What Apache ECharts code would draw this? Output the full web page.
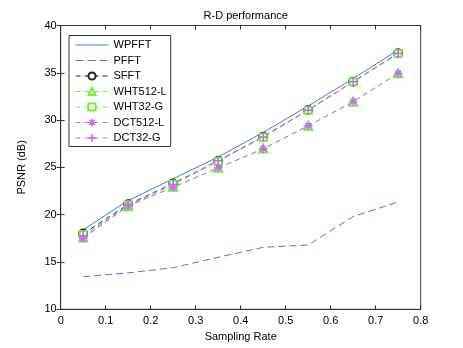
<!DOCTYPE html>
<html><head><meta charset="utf-8">
<script src="https://cdn.jsdelivr.net/npm/echarts@6/dist/echarts.min.js"></script>
<style>html,body{margin:0;padding:0;background:#fff}#c{width:463px;height:348px}</style>
</head><body><div id="c"></div>
<script>
const rates = [0.05, 0.15, 0.25, 0.35, 0.45, 0.55, 0.65, 0.75];
const wpfft = [18.4, 21.5, 23.8, 26.1, 28.7, 31.5, 34.4, 37.4];
const pfft = [13.45, 13.85, 14.4, 15.5, 16.55, 16.8, 19.8, 21.35];
const sfft = [18.0, 21.1, 23.3, 25.7, 28.25, 31.07, 34.06, 37.06];
const wht512 = [17.6, 20.9, 22.95, 24.95, 27.0, 29.4, 31.95, 34.95];
const wht32 = [17.9, 21.05, 23.25, 25.65, 28.2, 31.05, 34.05, 37.05];
const dct512 = [17.5, 20.95, 22.9, 24.95, 26.95, 29.4, 31.95, 34.95];
const dct32 = [17.75, 21.0, 23.2, 25.7, 28.2, 31.05, 34.05, 37.05];
const xTicks = [0, 0.1, 0.2, 0.3, 0.4, 0.5, 0.6, 0.7, 0.8];
const yTicks = [10, 15, 20, 25, 30, 35, 40];

const BLUE = '#4f6ef8', GREEN = '#70f030', MAG = '#cc66ff', BLK = '#222';
const F = 'Liberation Sans, Arial, sans-serif';
const plus = 'path://M-0.06,-1H0.06V-0.06H1V0.06H0.06V1H-0.06V0.06H-1V-0.06H-0.06Z';
const aster = 'path://M-0.06,-1H0.06V-0.15L0.66,-0.75L0.75,-0.66L0.15,-0.06H1V0.06H0.15L0.75,0.66L0.66,0.75L0.06,0.15V1H-0.06V0.15L-0.66,0.75L-0.75,0.66L-0.15,0.06H-1V-0.06H-0.15L-0.75,-0.66L-0.66,-0.75L-0.06,-0.15Z';

function mk(name, vals, color, dash, symbol, size) {
  return {
    name, type: 'line', data: rates.map((r, i) => [r, vals[i]]),
    symbol: symbol || 'none', symbolSize: size || 8, showSymbol: !!symbol,
    lineStyle: { color, width: 1, type: dash ? dash : 'solid' },
    itemStyle: { color, borderColor: color, borderWidth: 1 },
    emphasis: { disabled: true }, animation: false
  };
}

const names = ['WPFFT', 'PFFT', 'SFFT', 'WHT512-L', 'WHT32-G', 'DCT512-L', 'DCT32-G'];
const chart = echarts.init(document.getElementById('c'));
chart.setOption({
  animation: false,
  title: { text: 'R-D performance', left: 240.7, textAlign: 'center', top: 5,
    textStyle: { fontFamily: F, fontSize: 11, fontWeight: 'normal', color: '#000' } },
  grid: { left: 60.7, right: 42.3, top: 25.5, bottom: 38.7, show: true, borderColor: '#333', borderWidth: 1, backgroundColor: '#fff' },
  xAxis: [{
    type: 'value', min: 0, max: 0.8, interval: 0.1,
    name: 'Sampling Rate', nameLocation: 'middle', nameGap: 17,
    nameTextStyle: { fontFamily: F, fontSize: 11, color: '#000' },
    axisLine: { lineStyle: { color: '#333' } },
    axisTick: { inside: true, length: 4, lineStyle: { color: '#333' } },
    axisLabel: { fontFamily: F, fontSize: 11, color: '#000', margin: 6,
      formatter: v => { const t = xTicks.find(x => Math.abs(x - v) < 1e-9); return t === undefined ? '' : String(t); } },
    splitLine: { show: false }
  }, {
    type: 'value', position: 'top', min: 0, max: 0.8, interval: 0.1,
    axisLine: { show: true, lineStyle: { color: '#333' } },
    axisTick: { inside: true, length: 4, lineStyle: { color: '#333' } },
    axisLabel: { show: false }, splitLine: { show: false }
  }],
  yAxis: [{
    type: 'value', min: 10, max: 40, interval: 5,
    name: 'PSNR (dB)', nameLocation: 'middle', nameGap: 33,
    nameTextStyle: { fontFamily: F, fontSize: 11, color: '#000' },
    axisLine: { show: true, lineStyle: { color: '#333' } },
    axisTick: { show: true, inside: true, length: 4, lineStyle: { color: '#333' } },
    axisLabel: { fontFamily: F, fontSize: 11, color: '#000', margin: 4,
      formatter: v => yTicks.includes(v) ? String(v) : '' },
    splitLine: { show: false }
  }, {
    type: 'value', position: 'right', min: 10, max: 40, interval: 5,
    axisLine: { show: true, lineStyle: { color: '#333' } },
    axisTick: { show: true, inside: true, length: 4, lineStyle: { color: '#333' } },
    axisLabel: { show: false }, splitLine: { show: false }
  }],
  legend: {
    orient: 'vertical', left: 69, top: 35.5, itemWidth: 33, itemHeight: 9, itemGap: 4.5,
    padding: [4, 4, 3, 6], borderColor: '#333', borderWidth: 1, backgroundColor: '#fff',
    lineStyle: { width: 1 }, itemStyle: { borderWidth: 1 },
    textStyle: { fontFamily: F, fontSize: 11, color: '#000' },
    data: names.map((n, i) => i === 0 ? { name: n, itemStyle: { opacity: 0 } }
      : i === 1 ? { name: n, itemStyle: { opacity: 0 }, lineStyle: { color: BLUE, width: 1, type: [8, 4] } }
      : { name: n })
  },
  series: [
    mk('WPFFT', wpfft, BLUE, null),
    mk('PFFT', pfft, BLUE, [7, 4]),
    mk('SFFT', sfft, BLK, [5, 4], 'emptyCircle', 8),
    mk('WHT512-L', wht512, GREEN, [5, 4], 'emptyTriangle', 8),
    mk('WHT32-G', wht32, GREEN, [5, 4], 'emptyRect', 7),
    mk('DCT512-L', dct512, MAG, [5, 4], aster, 8),
    mk('DCT32-G', dct32, MAG, [5, 4], plus, 9)
  ]
});
</script></body></html>
